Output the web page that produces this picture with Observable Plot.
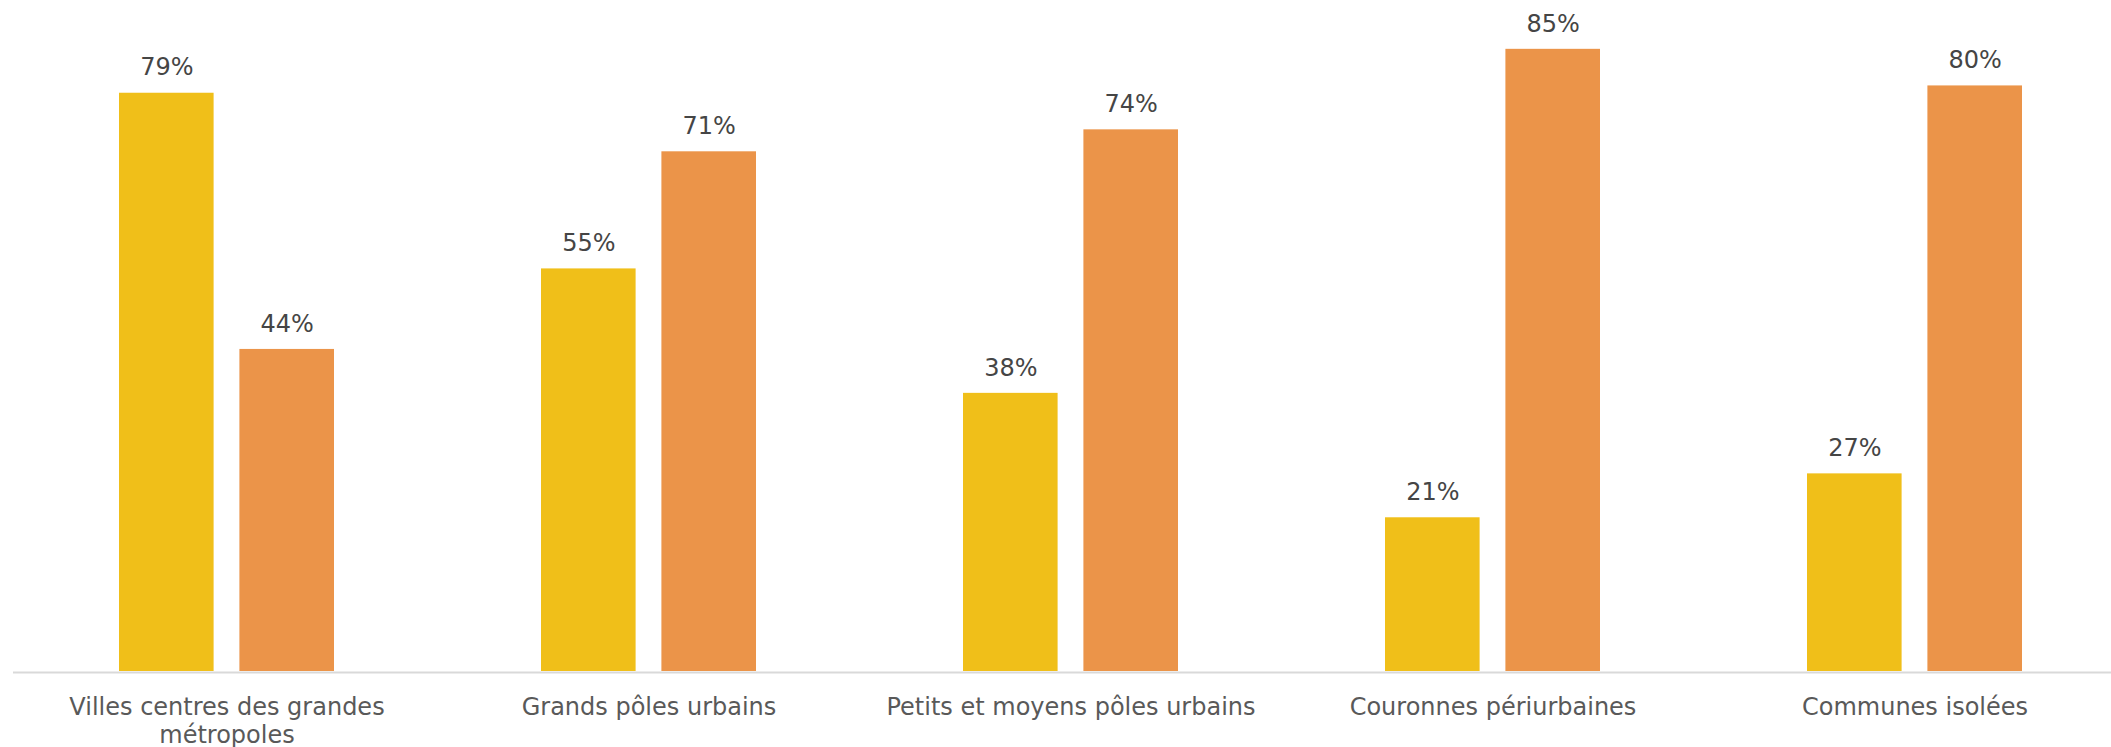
<!DOCTYPE html>
<html>
<head>
<meta charset="utf-8">
<script src="https://cdn.jsdelivr.net/npm/d3@7"></script>
<script src="https://cdn.jsdelivr.net/npm/@observablehq/plot@0.6"></script>
<style>
  html, body { margin: 0; padding: 0; background: #ffffff; }
  #chart svg { display: block; }
</style>
</head>
<body>
<div id="chart"></div>
<script>
const categories = [
  "Villes centres des grandes métropoles",
  "Grands pôles urbains",
  "Petits et moyens pôles urbains",
  "Couronnes périurbaines",
  "Communes isolées"
];
const tickLabels = [
  "Villes centres des grandes\nmétropoles",
  "Grands pôles urbains",
  "Petits et moyens pôles urbains",
  "Couronnes périurbaines",
  "Communes isolées"
];
const seriesA = [79, 55, 38, 21, 27];   // yellow
const seriesB = [44, 71, 74, 85, 80];   // orange

const rowsA = categories.map((c, i) => ({category: c, value: seriesA[i]}));
const rowsB = categories.map((c, i) => ({category: c, value: seriesB[i]}));

const W = 2111, H = 747;
const groupInset = 120.4;
const labelShift = 60.2;

const chart = Plot.plot({
  width: W,
  height: H,
  marginTop: 0,
  marginLeft: 13,
  marginRight: 0,
  marginBottom: 76,
  style: {fontFamily: "'DejaVu Sans', Verdana, sans-serif", background: "#ffffff"},
  x: {
    domain: categories,
    range: [13.9, 2126.4],
    paddingInner: 0.4911,
    paddingOuter: 0.2456,
    label: null
  },
  y: {domain: [0, 91.67], range: [671, 0], label: null, axis: null},
  marks: [
    Plot.ruleY([0], {stroke: "#d9d9d9", strokeWidth: 2, dy: 1}),
    Plot.barY(rowsA, {x: "category", y: "value", fill: "#F0BF19", insetRight: groupInset}),
    Plot.barY(rowsB, {x: "category", y: "value", fill: "#EB9449", insetLeft: groupInset}),
    Plot.text(rowsA, {x: "category", y: "value", text: d => d.value + "%", dx: -labelShift, dy: -25.5, fontSize: 24, fill: "#454545"}),
    Plot.text(rowsB, {x: "category", y: "value", text: d => d.value + "%", dx: labelShift, dy: -25.5, fontSize: 24, fill: "#454545"}),
    Plot.axisX({
      tickSize: 0,
      tickPadding: 24,
      fontSize: 24,
      lineHeight: 1.167,
      fill: "#595959",
      tickFormat: d => tickLabels[categories.indexOf(d)],
      label: null
    })
  ]
});
document.getElementById("chart").appendChild(chart);
</script>
</body>
</html>
